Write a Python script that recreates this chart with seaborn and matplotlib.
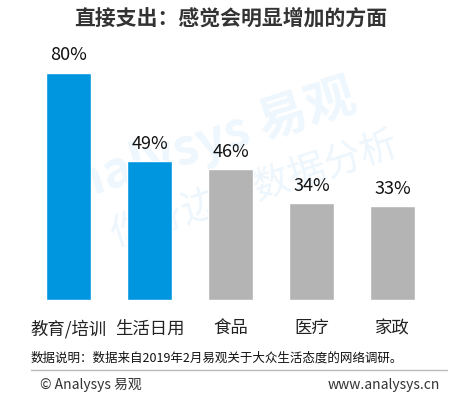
import matplotlib
matplotlib.use("Agg")
import matplotlib.pyplot as plt
import seaborn as sns
import pandas as pd

categories = ["教育/培训", "生活日用", "食品", "医疗", "家政"]
values = [80, 49, 46, 34, 33]
colors = ["#0096DF", "#0096DF", "#B4B4B4", "#B4B4B4", "#B4B4B4"]
title = "直接支出：感觉会明显增加的方面"
note = "数据说明：数据来自2019年2月易观关于大众生活态度的网络调研。"

sns.set_theme(style="white")
plt.rcParams['font.family'] = ['Noto Sans CJK SC', 'DejaVu Sans']

df = pd.DataFrame({"cat": categories, "val": values})

fig = plt.figure(figsize=(4.61, 4.0), dpi=100)
ax = fig.add_axes([28/461, 0.25, 405/461, 255.6/400])
ax.set_zorder(2)
ax.patch.set_visible(False)

# watermark (behind the bars)
fig.text(200/461, 1 - 145/400, "analysys 易观", fontsize=36, fontweight="bold",
         color="#EEF7FD", rotation=18, ha="center", va="center",
         rotation_mode="anchor", zorder=0)
fig.text(255/461, 1 - 190/400, "你身边的数据分析", fontsize=27, color="#EDF6FC",
         rotation=18, ha="center", va="center", rotation_mode="anchor", zorder=0)

sns.barplot(data=df, x="cat", y="val", hue="cat", palette=colors, legend=False,
            width=45/81, ax=ax, saturation=1, zorder=2)
ax.set_xlim(-0.5, 4.5)
ax.set_ylim(0, 90)
for i, v in enumerate(values):
    ax.annotate(f"{v}%", (i, v), xytext=(0, 6), textcoords="offset points",
                ha="center", va="bottom", fontsize=13, color="#111111")
ax.set_xlabel("")
ax.set_ylabel("")
ax.set_yticks([])
ax.tick_params(axis="x", length=0, pad=14, labelsize=12.5, labelcolor="#222222")
for s in ax.spines.values():
    s.set_visible(False)

fig.text(0.5, 1 - 18/400, title, ha="center", va="center", fontsize=15,
         fontweight="bold", color="#333333")
fig.text(31/461, 1 - 358/400, note, ha="left", va="center", fontsize=9, color="#111111")
fig.add_artist(plt.Line2D([31/461, 447/461], [1 - 370/400, 1 - 370/400],
                          color="#BBBBBB", linewidth=1))
fig.text(40/461, 1 - 385/400, "© Analysys 易观", ha="left", va="center",
         fontsize=10, color="#333333")
fig.text(440/461, 1 - 385/400, "www.analysys.cn", ha="right", va="center",
         fontsize=10, color="#333333")

fig.savefig("out.png", dpi=100)
